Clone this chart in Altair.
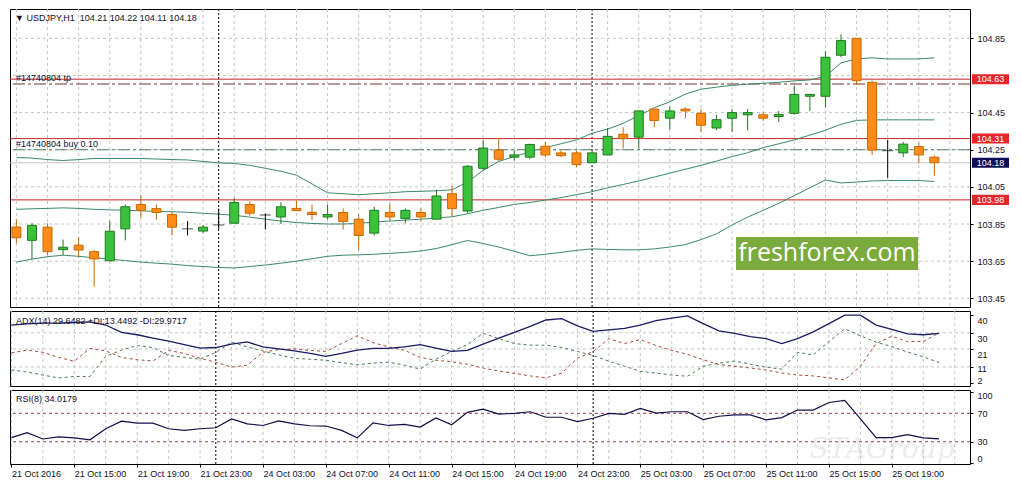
import altair as alt
import pandas as pd

# ---------------- data ----------------
opens = [103.834, 103.762, 103.833, 103.712, 103.736, 103.701, 103.652, 103.824, 103.955, 103.933,
         103.901, 103.824, 103.812, 103.845, 103.854, 103.955, 103.899, 103.888, 103.934, 103.913,
         103.888, 103.912, 103.876, 103.801, 103.912, 103.880, 103.912, 103.876, 104.013, 103.920,
         104.150, 104.248, 104.210, 104.210, 104.269, 104.233, 104.233, 104.180, 104.222, 104.333,
         104.318, 104.469, 104.420, 104.469, 104.446, 104.367, 104.420, 104.438, 104.438, 104.429,
         104.446, 104.538, 104.538, 104.759, 104.850, 104.613, 104.245, 104.233, 104.267, 104.210]
highs = [103.876, 103.854, 103.854, 103.766, 103.780, 103.710, 103.867, 103.955, 104.003, 103.955,
         103.915, 103.866, 103.845, 103.933, 103.990, 103.973, 103.906, 103.967, 103.976, 103.955,
         103.955, 103.934, 103.903, 103.943, 103.959, 103.934, 103.934, 104.034, 104.055, 104.168,
         104.303, 104.312, 104.248, 104.283, 104.292, 104.245, 104.245, 104.245, 104.367, 104.371,
         104.459, 104.469, 104.482, 104.478, 104.469, 104.438, 104.469, 104.469, 104.455, 104.459,
         104.596, 104.548, 104.780, 104.871, 104.850, 104.622, 104.303, 104.292, 104.288, 104.220]
lows = [103.745, 103.661, 103.683, 103.682, 103.669, 103.512, 103.650, 103.762, 103.880, 103.873,
        103.788, 103.788, 103.801, 103.824, 103.854, 103.894, 103.820, 103.850, 103.920, 103.873,
        103.876, 103.820, 103.709, 103.788, 103.871, 103.854, 103.867, 103.876, 103.888, 103.908,
        104.139, 104.188, 104.192, 104.199, 104.210, 104.210, 104.157, 104.180, 104.222, 104.257,
        104.257, 104.371, 104.359, 104.420, 104.345, 104.355, 104.346, 104.355, 104.406, 104.399,
        104.438, 104.459, 104.478, 104.748, 104.599, 104.222, 104.099, 104.210, 104.178, 104.110]
closes = [103.776, 103.843, 103.701, 103.725, 103.710, 103.662, 103.811, 103.943, 103.924, 103.912,
          103.833, 103.824, 103.833, 103.845, 103.966, 103.908, 103.899, 103.943, 103.922, 103.901,
          103.901, 103.864, 103.788, 103.924, 103.888, 103.924, 103.888, 104.001, 103.933, 104.161,
          104.259, 104.199, 104.222, 104.278, 104.222, 104.218, 104.170, 104.233, 104.322, 104.310,
          104.459, 104.408, 104.459, 104.459, 104.382, 104.412, 104.450, 104.450, 104.420, 104.440,
          104.548, 104.548, 104.748, 104.838, 104.622, 104.248, 104.245, 104.280, 104.222, 104.180]

bb_upper = [104.208, 104.205, 104.197, 104.192, 104.197, 104.203, 104.203, 104.203, 104.203, 104.200,
            104.197, 104.195, 104.187, 104.179, 104.176, 104.166, 104.150, 104.134, 104.113, 104.066,
            104.018, 104.013, 104.008, 104.013, 104.018, 104.024, 104.026, 104.029, 104.034, 104.076,
            104.139, 104.187, 104.213, 104.239, 104.261, 104.282, 104.303, 104.339, 104.361, 104.392,
            104.434, 104.476, 104.508, 104.550, 104.576, 104.587, 104.597, 104.603, 104.608, 104.613,
            104.621, 104.626, 104.645, 104.718, 104.739, 104.745, 104.739, 104.739, 104.739, 104.745]
bb_middle = [103.929, 103.932, 103.934, 103.937, 103.934, 103.929, 103.926, 103.924, 103.921, 103.918,
             103.916, 103.913, 103.908, 103.903, 103.897, 103.887, 103.876, 103.866, 103.858, 103.853,
             103.850, 103.850, 103.853, 103.861, 103.866, 103.871, 103.876, 103.882, 103.889, 103.905,
             103.924, 103.939, 103.955, 103.966, 103.979, 103.992, 104.008, 104.024, 104.045, 104.063,
             104.082, 104.103, 104.124, 104.145, 104.166, 104.189, 104.213, 104.234, 104.261, 104.282,
             104.303, 104.329, 104.355, 104.387, 104.408, 104.411, 104.411, 104.411, 104.411, 104.411]
bb_lower = [103.645, 103.661, 103.674, 103.682, 103.676, 103.668, 103.661, 103.653, 103.645, 103.639,
            103.634, 103.626, 103.621, 103.616, 103.613, 103.621, 103.629, 103.639, 103.650, 103.663,
            103.676, 103.682, 103.684, 103.687, 103.692, 103.697, 103.705, 103.718, 103.739, 103.761,
            103.745, 103.726, 103.703, 103.679, 103.687, 103.697, 103.708, 103.716, 103.713, 103.711,
            103.711, 103.716, 103.726, 103.739, 103.766, 103.797, 103.845, 103.887, 103.924, 103.961,
            104.003, 104.045, 104.087, 104.071, 104.076, 104.082, 104.084, 104.084, 104.084, 104.079]

adx_main = [34.3, 34.9, 35.4, 35.4, 35.7, 36.0, 34.3, 30.2, 28.9, 27.0,
            25.3, 23.4, 21.5, 21.8, 23.7, 24.9, 22.1, 21.0, 19.9, 18.5,
            16.9, 18.5, 20.4, 21.3, 21.3, 22.1, 23.4, 21.5, 19.6, 20.2,
            23.7, 27.0, 30.2, 33.5, 37.1, 37.9, 33.8, 30.8, 31.6, 32.4,
            34.3, 36.7, 38.1, 39.4, 35.1, 31.1, 29.7, 27.8, 26.7, 24.0,
            26.7, 30.5, 35.1, 39.8, 39.8, 34.3, 31.9, 29.4, 28.9, 29.6482]
adx_plus = [9.3, 8.2, 6.5, 4.9, 5.7, 5.7, 16.9, 20.4, 22.9, 21.8,
            17.4, 16.3, 15.3, 19.1, 24.8, 22.1, 19.9, 17.7, 15.8, 15.3,
            14.7, 13.4, 12.2, 13.1, 13.6, 12.0, 9.8, 15.3, 19.6, 23.4,
            29.7, 26.7, 24.0, 23.1, 23.1, 21.8, 19.6, 17.4, 14.2, 11.4,
            8.6, 7.6, 6.5, 5.8, 11.4, 13.1, 14.3, 12.5, 10.9, 9.8,
            19.1, 17.7, 25.1, 32.2, 28.3, 24.8, 22.3, 19.3, 16.6, 13.4492]
adx_minus = [18.8, 20.4, 19.1, 16.3, 14.2, 21.3, 19.9, 16.3, 15.0, 14.3,
             20.2, 18.5, 15.8, 13.6, 10.9, 12.0, 19.1, 20.7, 21.0, 20.2,
             19.6, 24.0, 28.3, 24.5, 22.1, 20.3, 16.3, 14.7, 13.9, 12.5,
             10.4, 8.7, 7.4, 6.0, 4.9, 7.6, 15.8, 19.6, 26.7, 24.0,
             26.2, 22.9, 20.2, 18.0, 15.0, 12.3, 11.4, 10.4, 9.3, 7.6,
             6.5, 6.0, 4.9, 3.8, 11.4, 24.0, 28.1, 25.1, 25.1, 29.9717]
rsi_vals = [35.9, 42.8, 33.9, 36.9, 35.5, 32.8, 48.3, 59.0, 56.2, 56.2,
            48.3, 46.0, 48.3, 49.7, 62.1, 55.2, 52.9, 59.4, 55.2, 52.5,
            52.1, 46.0, 35.5, 56.6, 52.9, 54.3, 50.7, 63.5, 53.9, 71.4,
            75.9, 69.0, 70.0, 72.2, 64.5, 64.5, 58.4, 63.1, 70.0, 68.6,
            76.9, 70.4, 72.2, 72.2, 61.2, 65.9, 67.7, 67.7, 60.8, 63.9,
            74.6, 74.6, 85.2, 88.3, 62.1, 35.9, 35.9, 40.1, 35.5, 34.0179]

tick_idx = list(range(0, 60, 4))
tick_labels = ["21 Oct 2016", "21 Oct 15:00", "21 Oct 19:00", "21 Oct 23:00", "24 Oct 03:00",
               "24 Oct 07:00", "24 Oct 11:00", "24 Oct 15:00", "24 Oct 19:00", "24 Oct 23:00",
               "25 Oct 03:00", "25 Oct 07:00", "25 Oct 11:00", "25 Oct 15:00", "25 Oct 19:00"]
day_sep_idx = [13, 37]
grid_idx = list(range(0, 61, 2))
price_grid = [103.45, 103.65, 103.85, 104.05, 104.25, 104.45, 104.65, 104.85]
price_ticks = [103.45, 103.65, 103.85, 104.05, 104.25, 104.45, 104.85]
red_levels = [104.63, 104.31, 103.98]
bid_price = 104.18
tp_level = 104.604
buy_level = 104.25
adx_ticks = [40, 30, 21, 11, 2]
adx_grid = [30, 21, 11]
rsi_ticks = [100, 70, 30, 0]
rsi_levels = [70, 30]

header_main = "\u25BC USDJPY,H1\u00a0\u00a0104.21 104.22 104.11 104.18"
header_adx = "ADX(14) 29.6482 +DI:13.4492 -DI:29.9717"
header_rsi = "RSI(8) 34.0179"
tp_text = "#14740804 tp"
buy_text = "#14740804 buy 0.10"
brand_text = "freshforex.com"
wm_text = "STAGroup"

# ---------------- styling ----------------
W = 960
H_MAIN, H_ADX, H_RSI = 298, 75, 74
FONT = "Liberation Sans"
TXT = "#10102a"
GRID = "#c6c6c6"
UP_FILL, UP_LINE = "#3cc13c", "#1f7a1f"
DN_FILL, DN_LINE = "#ff8c1a", "#c66a00"
BB_C = "#3a8a68"
RED_LINE = "#cc2424"
RED_BOX = "#e4262a"
NAVY_BOX = "#0c0c5a"

n = len(opens)
kind = ["up" if c > o else ("down" if c < o else "doji") for o, c in zip(opens, closes)]
df = pd.DataFrame(dict(idx=list(range(n)), open=opens, high=highs, low=lows, close=closes,
                       ub=bb_upper, mb=bb_middle, lb=bb_lower,
                       adx=adx_main, pdi=adx_plus, mdi=adx_minus, rsi=rsi_vals, kind=kind))

xscale = alt.Scale(domain=[-0.09, 60.97], nice=False, zero=False)

ys_main = alt.Scale(domain=[103.403, 105.008], nice=False, zero=False)
ys_adx = alt.Scale(domain=[0.4, 42.1], nice=False, zero=False)
ys_rsi = alt.Scale(domain=[-1.3, 102.8], nice=False, zero=False)

main_axis = alt.Axis(orient="right", values=price_ticks, format=".2f", title=None, grid=False,
                     domain=False, tickSize=3, labelPadding=4, labelOverlap=False)
adx_axis = alt.Axis(orient="right", values=adx_ticks, title=None, grid=False, domain=False,
                    tickSize=3, labelPadding=4, labelOffset=2, labelOverlap=False,
                    labelBaseline={"condition": [{"test": "datum.value == 2", "value": "bottom"},
                                                 {"test": "datum.value == 11", "value": "middle"}],
                                   "value": "top"})
rsi_axis = alt.Axis(orient="right", values=rsi_ticks, title=None, grid=False, domain=False,
                    tickSize=3, labelPadding=4, labelOverlap=False,
                    labelBaseline={"condition": [{"test": "datum.value == 100", "value": "top"},
                                                 {"test": "datum.value == 0", "value": "bottom"}],
                                   "value": "middle"})
label_arr = ",".join("'" + s + "'" for s in tick_labels)
x_axis = alt.Axis(values=tick_idx, labelExpr="[" + label_arr + "][round(datum.value/4)]",
                  labelAlign="left", labelAngle=0, tickSize=3, labelPadding=2, domain=False,
                  grid=False, labelFlush=False, labelOverlap=False, labelBound=False)


def panel_fns(xaxis, yscale, yaxis):
    def X():
        return alt.X("idx:Q", scale=xscale, axis=xaxis, title=None)

    def Y(field):
        return alt.Y(field, scale=yscale, axis=yaxis, title=None)

    return X, Y


def common(X):
    vgrid = alt.Chart(pd.DataFrame({"idx": grid_idx})).mark_rule(
        color=GRID, strokeDash=[3, 3], strokeWidth=1).encode(x=X())
    seps = alt.Chart(pd.DataFrame({"idx": day_sep_idx})).mark_rule(
        color="#000", strokeDash=[2, 2], strokeWidth=1).encode(x=X())
    return vgrid, seps


def hrule(Y, values, color, dash=None, width=1):
    kw = dict(color=color, strokeWidth=width)
    if dash:
        kw["strokeDash"] = dash
    return alt.Chart(pd.DataFrame({"p": values})).mark_rule(**kw).encode(y=Y("p:Q"))


base = alt.Chart(df)

# ---------------- main panel ----------------
X, Y = panel_fns(None, ys_main, main_axis)
vg, sp = common(X)


def wick(k, color):
    return base.transform_filter(alt.datum.kind == k).mark_rule(color=color, strokeWidth=1).encode(
        x=X(), y=Y("low:Q"), y2="high:Q")


def body(k, fill, stroke):
    return base.transform_filter(alt.datum.kind == k).mark_bar(
        width=9, fill=fill, stroke=stroke, strokeWidth=1, clip=True).encode(
        x=X(), y=Y("open:Q"), y2="close:Q")


doji = base.transform_filter(alt.datum.kind == "doji").mark_tick(
    orient="horizontal", size=11, thickness=1, color="#000").encode(x=X(), y=Y("open:Q"))

bands = base.transform_fold(["ub", "mb", "lb"], as_=["band", "val"]).mark_line(
    color=BB_C, strokeWidth=1).encode(x=X(), y=Y("val:Q"), detail="band:N")

orders = alt.Chart(pd.DataFrame({"p": [tp_level, buy_level], "t": [tp_text, buy_text]})).mark_text(
    align="left", baseline="bottom", dy=-1, font=FONT, fontSize=9, color=TXT).encode(
    x=alt.value(6), y=Y("p:Q"), text="t:N")

head_main = alt.Chart(pd.DataFrame({"t": [header_main]})).mark_text(
    align="left", baseline="middle", font=FONT, fontSize=9, color=TXT).encode(
    x=alt.value(5), y=alt.value(9), text="t:N")

brand = alt.Chart(pd.DataFrame({"t": [brand_text]}))
brand_box = brand.mark_rect(color="#7aab3c").encode(
    x=alt.value(726), x2=alt.value(908), y=alt.value(228), y2=alt.value(261))
brand_txt = brand.mark_text(font="Open Sans", fontSize=25, color="white", align="center",
                            baseline="middle").encode(x=alt.value(817), y=alt.value(244), text="t:N")

lv = pd.DataFrame({"p": red_levels + [bid_price], "kind": ["lvl"] * len(red_levels) + ["bid"]})
boxes = alt.Chart(lv).transform_calculate(lo="datum.p - 0.027", hi="datum.p + 0.027").mark_rect().encode(
    x=alt.value(W + 2), x2=alt.value(W + 39), y=Y("lo:Q"), y2="hi:Q",
    color=alt.Color("kind:N", scale=alt.Scale(domain=["lvl", "bid"], range=[RED_BOX, NAVY_BOX]),
                    legend=None))
box_txt = alt.Chart(lv).mark_text(font=FONT, fontSize=9, color="white", align="center",
                                  baseline="middle").encode(
    x=alt.value(W + 20.5), y=Y("p:Q"), text=alt.Text("p:Q", format=".2f"))

main = alt.layer(
    vg,
    hrule(Y, price_grid, GRID, dash=[3, 3]),
    sp,
    hrule(Y, [bid_price], "#c4c4c4"),
    hrule(Y, red_levels, RED_LINE),
    hrule(Y, [tp_level], "#6e3434", dash=[12, 3, 3, 3]),
    hrule(Y, [buy_level], "#4f8060", dash=[12, 3, 3, 3]),
    bands,
    wick("up", UP_LINE), wick("down", DN_LINE), wick("doji", "#000"),
    body("up", UP_FILL, UP_LINE), body("down", DN_FILL, DN_LINE), doji,
    orders, head_main,
    brand_box, brand_txt,
    boxes, box_txt,
).properties(width=W, height=H_MAIN)

# ---------------- ADX panel ----------------
X, Y = panel_fns(None, ys_adx, adx_axis)
vg, sp = common(X)
adx_line = base.mark_line(color="#1a1a66", strokeWidth=1.3).encode(x=X(), y=Y("adx:Q"))
pdi_line = base.mark_line(color="#4a7a50", strokeWidth=1, strokeDash=[3, 3]).encode(x=X(), y=Y("pdi:Q"))
mdi_line = base.mark_line(color="#a84a3a", strokeWidth=1, strokeDash=[3, 3]).encode(x=X(), y=Y("mdi:Q"))
head_adx = alt.Chart(pd.DataFrame({"t": [header_adx]})).mark_text(
    align="left", baseline="middle", font=FONT, fontSize=9, color=TXT).encode(
    x=alt.value(6), y=alt.value(10), text="t:N")

adx = alt.layer(
    vg,
    hrule(Y, adx_grid, GRID, dash=[3, 3]),
    sp,
    mdi_line, pdi_line, adx_line,
    head_adx,
).properties(width=W, height=H_ADX)

# ---------------- RSI panel ----------------
X, Y = panel_fns(x_axis, ys_rsi, rsi_axis)
vg, sp = common(X)
wm = alt.Chart(pd.DataFrame({"t": [wm_text]})).mark_text(
    font="DejaVu Serif", fontSize=28, fontStyle="italic", color="#ececec", align="center",
    baseline="middle").encode(x=alt.value(872), y=alt.value(60), text="t:N")
rsi_line = base.mark_line(color="#101048", strokeWidth=1.2).encode(x=X(), y=Y("rsi:Q"))
head_rsi = alt.Chart(pd.DataFrame({"t": [header_rsi]})).mark_text(
    align="left", baseline="middle", font=FONT, fontSize=9, color=TXT).encode(
    x=alt.value(6), y=alt.value(9), text="t:N")

rsi = alt.layer(
    wm,
    vg,
    hrule(Y, rsi_levels, "#a03c46", dash=[3, 3]),
    sp,
    rsi_line,
    head_rsi,
).properties(width=W, height=H_RSI)

chart = alt.vconcat(main, adx, rsi, spacing=2).properties(
    padding=0, background="white"
).configure_view(
    stroke="#000", strokeWidth=1
).configure_axis(
    labelFont=FONT, labelFontSize=9, labelColor=TXT, tickColor="#000", domain=False, grid=False
)

chart.save("out.html", embed_options={"renderer": "svg", "actions": False})
